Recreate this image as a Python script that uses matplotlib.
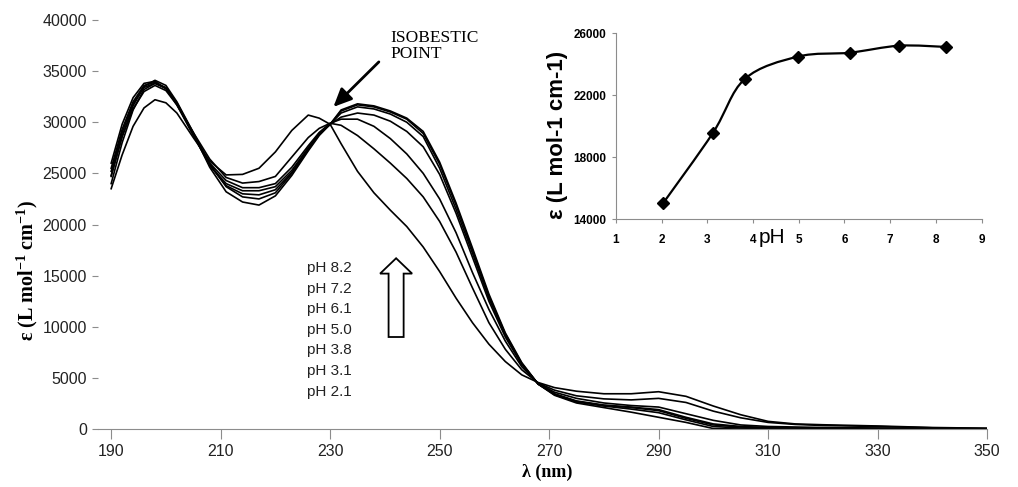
import numpy as np
import matplotlib
matplotlib.use('Agg')
import matplotlib.pyplot as plt
from matplotlib.patches import FancyArrow, PathPatch
from matplotlib.path import Path

plt.rcParams['font.family'] = ['Liberation Sans', 'DejaVu Sans']
plt.rcParams['mathtext.fontset'] = 'custom'
plt.rcParams['mathtext.rm'] = 'Liberation Serif:bold'
plt.rcParams['mathtext.bf'] = 'Liberation Serif:bold'
plt.rcParams['mathtext.default'] = 'bf'

# wavelengths (nm)
lam = [190, 192, 194, 196, 198, 200, 202, 205, 208, 211, 214, 217, 220, 223,
       226, 228, 230, 232, 235, 238, 241, 244, 247, 250, 253, 256, 259, 262,
       265, 268, 271, 275, 280, 285, 290, 295, 300, 305, 310, 315, 320, 330,
       340, 350]

# molar absorptivity spectra (L mol-1 cm-1) at each pH
eps_21 = [23500, 26800, 29600, 31400, 32200, 31900, 30900, 28500, 26200, 24850,
          24900, 25500, 27100, 29200, 30700, 30400, 29800, 27900, 25200, 23100,
          21400, 19800, 17800, 15400, 12800, 10400, 8300, 6600, 5300, 4550,
          4050, 3700, 3450, 3450, 3650, 3200, 2250, 1400, 750, 500, 420, 300,
          150, 80]
eps_31 = [24800, 28600, 31300, 33000, 33600, 33100, 31700, 29000, 26400, 24600,
          24050, 24200, 24700, 26600, 28500, 29400, 29900, 29700, 28700, 27400,
          26000, 24500, 22700, 20300, 17300, 13800, 10400, 7800, 5800, 4500,
          3800, 3250, 2950, 2850, 3000, 2600, 1750, 1100, 650, 450, 350, 250,
          120, 60]
eps_38 = [25500, 29300, 32000, 33600, 33900, 33300, 31800, 28900, 26000, 24300,
          23600, 23600, 24000, 25600, 27700, 29000, 29900, 30300, 30300, 29600,
          28400, 26900, 25000, 22500, 19200, 15300, 11700, 8600, 6100, 4450,
          3600, 3000, 2550, 2300, 2150, 1500, 850, 400, 250, 200, 150, 100,
          60, 30]
eps_50 = [26000, 29800, 32400, 33800, 34000, 33300, 31700, 28700, 25800, 24000,
          23300, 23300, 23700, 25300, 27500, 28900, 29800, 30500, 30900, 30700,
          30100, 29100, 27600, 24900, 21100, 16800, 12500, 9000, 6300, 4400,
          3450, 2750, 2350, 2150, 1900, 1150, 500, 250, 150, 100, 100, 60,
          30, 0]
eps_61 = [25200, 29000, 31800, 33400, 33800, 33300, 31800, 28800, 25800, 23800,
          23000, 22900, 23400, 25100, 27400, 28900, 29800, 30900, 31500, 31300,
          30800, 30000, 28600, 25500, 21500, 17200, 12800, 9200, 6400, 4400,
          3400, 2700, 2300, 2100, 1800, 1050, 400, 200, 100, 80, 60, 40,
          20, 0]
eps_72 = [24700, 28600, 31600, 33500, 34100, 33600, 32000, 29000, 25900, 23700,
          22700, 22500, 23100, 25000, 27300, 28800, 29800, 31100, 31700, 31500,
          31000, 30300, 28900, 25900, 21900, 17500, 13000, 9300, 6400, 4400,
          3350, 2650, 2250, 1950, 1600, 900, 250, 100, 50, 40, 30, 20,
          10, 0]
eps_82 = [24000, 28000, 31200, 33200, 33800, 33400, 31900, 28900, 25600, 23200,
          22200, 21900, 22800, 24800, 27200, 28700, 29800, 31200, 31800, 31600,
          31100, 30400, 29100, 26100, 22100, 17700, 13200, 9400, 6500, 4400,
          3300, 2550, 2100, 1650, 1150, 650, 50, 0, 0, 0, 0, 0,
          0, 0]

spectra = [eps_82, eps_72, eps_61, eps_50, eps_38, eps_31, eps_21]
ph_labels = ['pH 8.2', 'pH 7.2', 'pH 6.1', 'pH 5.0', 'pH 3.8', 'pH 3.1', 'pH 2.1']

# inset: absorptivity at the titration wavelength vs pH
ph_inset = [2.04, 3.12, 3.82, 4.99, 6.12, 7.2, 8.22]
eps_inset = [15050, 19550, 23050, 24500, 24750, 25200, 25120]

fig = plt.figure(figsize=(10.18, 4.87), dpi=100)
ax = fig.add_axes([0.0963, 0.119, 0.8733, 0.840])

for e in spectra:
    ax.plot(lam, e, color='black', lw=1.2)

ax.set_xlim(187.6, 350)
ax.set_ylim(0, 40000)
ax.set_xticks(np.arange(190, 351, 20))
ax.set_yticks(np.arange(0, 40001, 5000))
for s in ['top', 'right', 'left']:
    ax.spines[s].set_visible(False)
ax.spines['bottom'].set_color('#8c8c8c')
ax.tick_params(axis='x', length=7, color='#8c8c8c', pad=4, labelsize=11.5, labelcolor='#222222')
ax.tick_params(axis='y', length=4, color='#8c8c8c', pad=4, labelsize=11.5, labelcolor='#222222')

fig.text(0.538, 0.031, 'λ (nm)', ha='center', va='center', fontsize=13,
         fontweight='bold', family=['Liberation Serif', 'DejaVu Serif'])
fig.text(0.027, 0.445, 'ε (L mol$^{-1}$ cm$^{-1}$)', ha='center', va='center',
         rotation=90, fontsize=14.5, fontweight='bold',
         family=['Liberation Serif', 'DejaVu Serif'])

# isosbestic point callout
ax.text(241.0, 39000, 'ISOBESTIC\nPOINT', ha='left', va='top', fontsize=12.5,
        family=['Liberation Serif', 'DejaVu Serif'], linespacing=1.0)
ax.annotate('', xy=(230.6, 31500), xytext=(238.9, 35900),
            arrowprops=dict(arrowstyle='-|>,head_length=1.1,head_width=0.5',
                            color='black', lw=2, shrinkA=0, shrinkB=0))

# legend of pH values with hollow arrow
for i, lab in enumerate(ph_labels):
    ax.text(225.8, 15750 - i * 2015, lab, ha='left', va='center', fontsize=11,
            color='#222222')
ax.add_patch(FancyArrow(242.05, 9000, 0, 7700, width=2.75, head_width=5.85,
                        head_length=1500, length_includes_head=True,
                        fc='white', ec='black', lw=1.3))

# inset
ins = fig.add_axes([0.605, 0.5503, 0.3592, 0.3813])
ins.patch.set_alpha(0)
x = np.array(ph_inset)
y = np.array(eps_inset)
# smoothed connecting line (Catmull-Rom as cubic Bezier segments)
px = np.concatenate([[x[0]], x, [x[-1]]])
py = np.concatenate([[y[0]], y, [y[-1]]])
verts = [(x[0], y[0])]
codes = [Path.MOVETO]
for k in range(1, len(px) - 2):
    c1 = (px[k] + (px[k + 1] - px[k - 1]) / 6, py[k] + (py[k + 1] - py[k - 1]) / 6)
    c2 = (px[k + 1] - (px[k + 2] - px[k]) / 6, py[k + 1] - (py[k + 2] - py[k]) / 6)
    verts += [c1, c2, (px[k + 1], py[k + 1])]
    codes += [Path.CURVE4] * 3
ins.add_patch(PathPatch(Path(verts, codes), fc='none', ec='black', lw=1.6))
ins.plot(x, y, linestyle='none', marker='D', ms=6.5, color='black')

ins.set_xlim(1, 9)
ins.set_ylim(14000, 26000)
ins.set_xticks(range(1, 10))
ins.set_yticks(range(14000, 26001, 4000))
for s in ['top', 'right']:
    ins.spines[s].set_visible(False)
for s in ['left', 'bottom']:
    ins.spines[s].set_color('#8c8c8c')
ins.tick_params(axis='x', length=3, color='#8c8c8c', pad=8, labelsize=8.5)
ins.tick_params(axis='y', length=3, color='#8c8c8c', pad=4, labelsize=8.5)
for t in ins.get_xticklabels() + ins.get_yticklabels():
    t.set_fontweight('bold')
fig.text(0.758, 0.513, 'pH', ha='center', va='center', fontsize=15)
fig.text(0.548, 0.723, 'ε (L mol-1 cm-1)', ha='center', va='center',
         rotation=90, fontsize=16, fontweight='bold')

fig.savefig('out.png', dpi=100)
